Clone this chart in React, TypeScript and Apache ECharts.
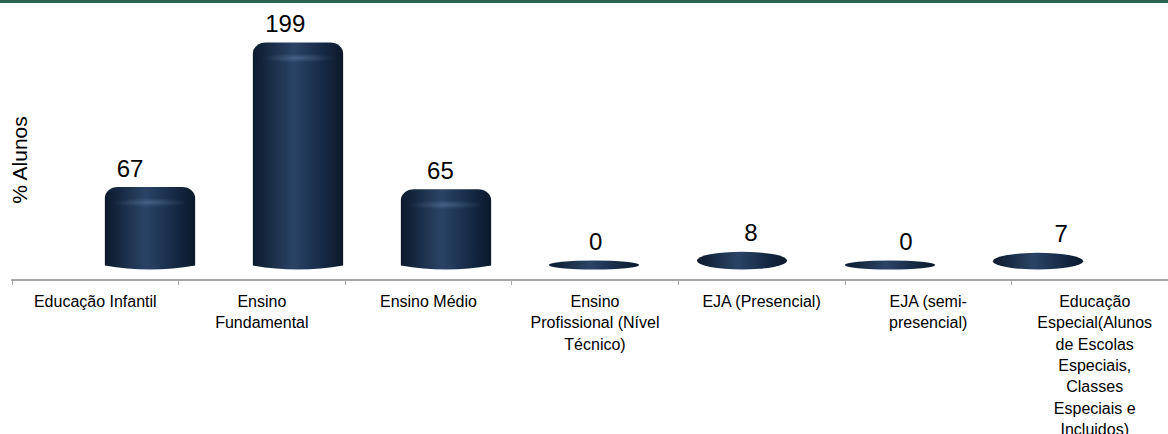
import React, { useEffect, useRef } from "react";
import * as echarts from "echarts";

const categories: string[] = [
  "Educação Infantil",
  "Ensino\nFundamental",
  "Ensino Médio",
  "Ensino\nProfissional (Nível\nTécnico)",
  "EJA (Presencial)",
  "EJA (semi-\npresencial)",
  "Educação\nEspecial(Alunos\nde Escolas\nEspeciais,\nClasses\nEspeciais e\nIncluidos)",
];
const values: number[] = [67, 199, 65, 0, 8, 0, 7];
const yAxisName = "% Alunos";

const FONT = "'Liberation Sans', Arial, sans-serif";

export default function App() {
  const ref = useRef<HTMLDivElement>(null);

  useEffect(() => {
    if (!ref.current) return;
    const chart = echarts.init(ref.current, undefined, { renderer: "svg" });
    const barData = values.map((v, i) => [i, v]);

    const renderBar = (params: any, api: any) => {
      const idx = api.value(0);
      const v = api.value(1);
      const c = api.coord([idx, v]);
      const c0 = api.coord([idx, 0]);
      const w = api.size([1, 0])[0] * 0.61;
      const L = c[0] - w / 2;
      const R = c[0] + w / 2;
      const T = c[1] - 4.5;
      const B = c0[1] + 4.5;
      const h = B - T;
      let d: string;
      if (h < 26) {
        const rx = w / 2;
        const ry = h / 2;
        const cy = T + ry;
        d = `M ${L} ${cy} A ${rx} ${ry} 0 1 1 ${R} ${cy} A ${rx} ${ry} 0 1 1 ${L} ${cy} Z`;
      } else {
        const rx = 13;
        const ry = 11;
        const sag = 4;
        d =
          `M ${L} ${T + ry} A ${rx} ${ry} 0 0 1 ${L + rx} ${T} L ${R - rx} ${T} ` +
          `A ${rx} ${ry} 0 0 1 ${R} ${T + ry} L ${R} ${B - sag} ` +
          `Q ${c[0]} ${B + sag} ${L} ${B - sag} Z`;
      }
      const grad = new echarts.graphic.LinearGradient(0, 0, 1, 0, [
        { offset: 0, color: "#0d1a2e" },
        { offset: 0.15, color: "#15283f" },
        { offset: 0.45, color: "#2a4467" },
        { offset: 0.72, color: "#182e4b" },
        { offset: 1, color: "#0c182a" },
      ]);
      const children: any[] = [
        { type: "path", shape: { pathData: d }, style: { fill: grad } },
      ];
      if (h >= 26) {
        children.push({
          type: "rect",
          shape: { x: L + 8, y: T + 11, width: w - 16, height: 9, r: 4.5 },
          style: {
            fill: new echarts.graphic.RadialGradient(0.5, 0.5, 0.5, [
              { offset: 0, color: "rgba(120,150,190,0.35)" },
              { offset: 1, color: "rgba(120,150,190,0)" },
            ]),
          },
        });
      }
      return { type: "group", children };
    };

    const renderLabel = (params: any, api: any) => {
      const idx = api.value(0);
      const v = api.value(1);
      const c = api.coord([idx, v]);
      return {
        type: "text",
        x: c[0],
        y: c[1] - 23.5,
        style: {
          text: String(v),
          fontSize: 24,
          fontFamily: FONT,
          fill: "#000",
          align: "center",
          verticalAlign: "middle",
        },
      };
    };

    chart.setOption({
      animation: false,
      backgroundColor: "#ffffff",
      grid: [
        { left: 12, width: 1166, top: 40, bottom: 154, outerBoundsMode: "none", containLabel: false },
        { left: 76, width: 1036, top: 24, bottom: 169, outerBoundsMode: "none" },
        { left: 52.4, width: 1086.4, top: 24, bottom: 169, outerBoundsMode: "none" },
      ],
      xAxis: [
        {
          type: "category",
          gridIndex: 0,
          data: categories,
          boundaryGap: true,
          axisLine: { show: true, lineStyle: { color: "#a6a6a6", width: 2 } },
          axisTick: { show: true, length: 5, lineStyle: { color: "#a6a6a6", width: 1 } },
          axisLabel: {
            interval: 0,
            fontSize: 16,
            lineHeight: 21.3,
            color: "#000",
            fontFamily: FONT,
            margin: 11,
            align: "center",
          },
          splitLine: { show: false },
        },
        { type: "category", gridIndex: 1, data: categories, show: false },
        { type: "category", gridIndex: 2, data: categories, show: false },
      ],
      yAxis: [
        { type: "value", gridIndex: 0, show: false, min: 0, max: 220 },
        { type: "value", gridIndex: 1, show: false, min: 0, max: 220 },
        { type: "value", gridIndex: 2, show: false, min: 0, max: 220 },
      ],
      series: [
        {
          type: "custom",
          xAxisIndex: 1,
          yAxisIndex: 1,
          data: barData,
          renderItem: renderBar,
          silent: true,
        },
        {
          type: "custom",
          xAxisIndex: 2,
          yAxisIndex: 2,
          data: barData,
          renderItem: renderLabel,
          silent: true,
        },
      ],
      graphic: [
        {
          type: "rect",
          left: 0,
          top: 0,
          shape: { width: 1168, height: 3 },
          style: { fill: "#276452" },
        },
        {
          type: "text",
          x: 19,
          y: 160,
          rotation: Math.PI / 2,
          style: {
            text: yAxisName,
            fontSize: 21,
            fontFamily: FONT,
            fill: "#000",
            align: "center",
            verticalAlign: "middle",
          },
        },
      ],
    });

    return () => chart.dispose();
  }, []);

  return (
    <div
      ref={ref}
      style={{ position: "absolute", left: 0, top: 0, width: 1168, height: 434 }}
    />
  );
}
